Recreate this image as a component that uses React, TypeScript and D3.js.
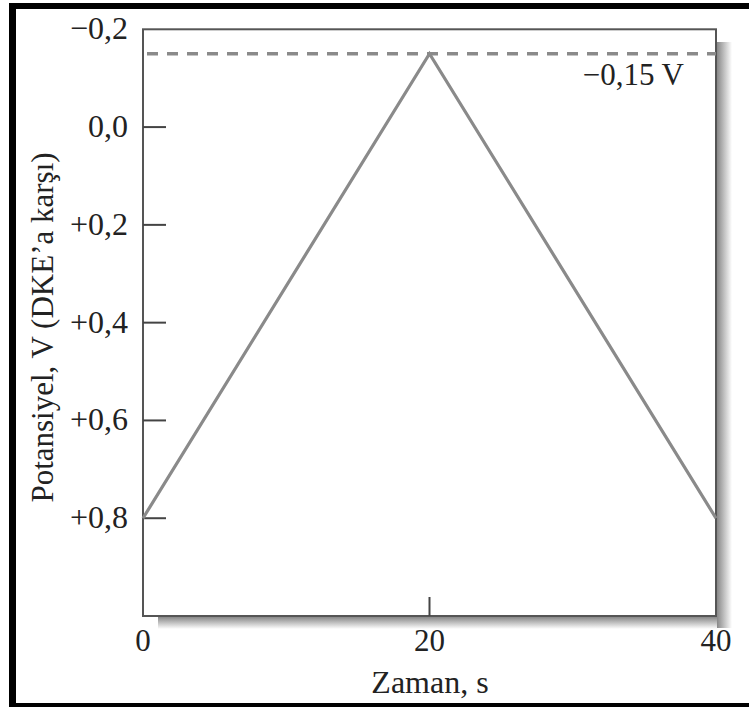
import React from "react";
import * as d3 from "d3";

// Triangular potential sweep: time (s) vs potential (V vs SCE)
const sweepTime = [0, 20, 40];
const sweepPotential = [0.8, -0.15, 0.8];

const yTickValues = [-0.2, 0.0, 0.2, 0.4, 0.6, 0.8];
const yTickLabels = ["\u22120,2", "0,0", "+0,2", "+0,4", "+0,6", "+0,8"];
const xTickValues = [0, 20, 40];
const xTickLabels = ["0", "20", "40"];

const switchPotential = -0.15;
const switchLabel = "\u22120,15 V";
const xTitle = "Zaman, s";
const yTitle = "Potansiyel, V (DKE\u2019a kar\u015f\u0131)";

const W = 749;
const H = 707;
const left = 143;
const right = 716;
const top = 29.3;
const bottom = 616;

export default function App() {
  const x = d3.scaleLinear().domain([0, 40]).range([left, right]);
  const y = d3.scaleLinear().domain([-0.2, 1.0]).range([top, bottom]);

  const pts: [number, number][] = sweepTime.map((t, i) => [t, sweepPotential[i]]);
  const line = d3
    .line<[number, number]>()
    .x((d) => x(d[0]))
    .y((d) => y(d[1]));

  const font = "'Liberation Serif', 'Times New Roman', serif";
  const ink = "#222";

  return (
    <svg
      width={W}
      height={H}
      viewBox={`0 0 ${W} ${H}`}
      style={{ position: "absolute", left: 0, top: 0, background: "#fff" }}
    >
      <defs>
        <linearGradient id="shadowR" x1="0" x2="1" y1="0" y2="0">
          <stop offset="0" stopColor="#888" />
          <stop offset="1" stopColor="#ffffff" />
        </linearGradient>
        <linearGradient id="shadowB" x1="0" x2="0" y1="0" y2="1">
          <stop offset="0" stopColor="#888" />
          <stop offset="1" stopColor="#ffffff" />
        </linearGradient>
      </defs>

      {/* outer black border (left, top, bottom) */}
      <rect x={9} y={3} width={W - 9} height={6} fill="#000" />
      <rect x={9} y={3} width={7} height={H - 3} fill="#000" />
      <rect x={9} y={703} width={W - 9} height={4} fill="#000" />

      {/* drop shadow of the plot panel */}
      <rect x={right + 1} y={42} width={15} height={bottom - 42 + 12} fill="url(#shadowR)" />
      <rect x={158} y={bottom + 1} width={right - 158 + 1} height={12} fill="url(#shadowB)" />

      {/* plot frame */}
      <rect
        x={left}
        y={top}
        width={right - left}
        height={bottom - top}
        fill="#fff"
        stroke="#555"
        strokeWidth={2}
      />

      {/* y ticks pointing inward */}
      {yTickValues.map((v, i) =>
        i === 0 ? null : (
          <line
            key={`yt${i}`}
            x1={left}
            x2={left + 23}
            y1={y(v)}
            y2={y(v)}
            stroke="#444"
            strokeWidth={2}
          />
        )
      )}
      {/* x tick at the midpoint */}
      {xTickValues.map((v, i) =>
        i === 0 || i === xTickValues.length - 1 ? null : (
          <line
            key={`xt${i}`}
            x1={x(v)}
            x2={x(v)}
            y1={bottom}
            y2={bottom - 19}
            stroke="#444"
            strokeWidth={2}
          />
        )
      )}

      {/* switching potential */}
      <line
        x1={left}
        x2={right}
        y1={y(switchPotential)}
        y2={y(switchPotential)}
        stroke="#8a8a8a"
        strokeWidth={3.5}
        strokeDasharray="11 9"
        strokeDashoffset={-4}
      />

      {/* potential sweep */}
      <path d={line(pts) ?? ""} fill="none" stroke="#8a8a8a" strokeWidth={3.2} />

      {/* y tick labels */}
      {yTickValues.map((v, i) => (
        <text
          key={`yl${i}`}
          x={128}
          y={y(v) + 10}
          textAnchor="end"
          fontFamily={font}
          fontSize={32}
          fill={ink}
        >
          {yTickLabels[i]}
        </text>
      ))}

      {/* x tick labels */}
      {xTickValues.map((v, i) => (
        <text
          key={`xl${i}`}
          x={x(v)}
          y={651}
          textAnchor="middle"
          fontFamily={font}
          fontSize={31}
          fill={ink}
        >
          {xTickLabels[i]}
        </text>
      ))}

      <text
        x={684}
        y={85}
        textAnchor="end"
        fontFamily={font}
        fontSize={31}
        fill={ink}
      >
        {switchLabel}
      </text>

      <text
        x={430}
        y={693}
        textAnchor="middle"
        fontFamily={font}
        fontSize={32}
        fill={ink}
      >
        {xTitle}
      </text>

      <text
        transform={`translate(53, 327.5) rotate(-90)`}
        textAnchor="middle"
        fontFamily={font}
        fontSize={31}
        fill={ink}
      >
        {yTitle}
      </text>
    </svg>
  );
}
